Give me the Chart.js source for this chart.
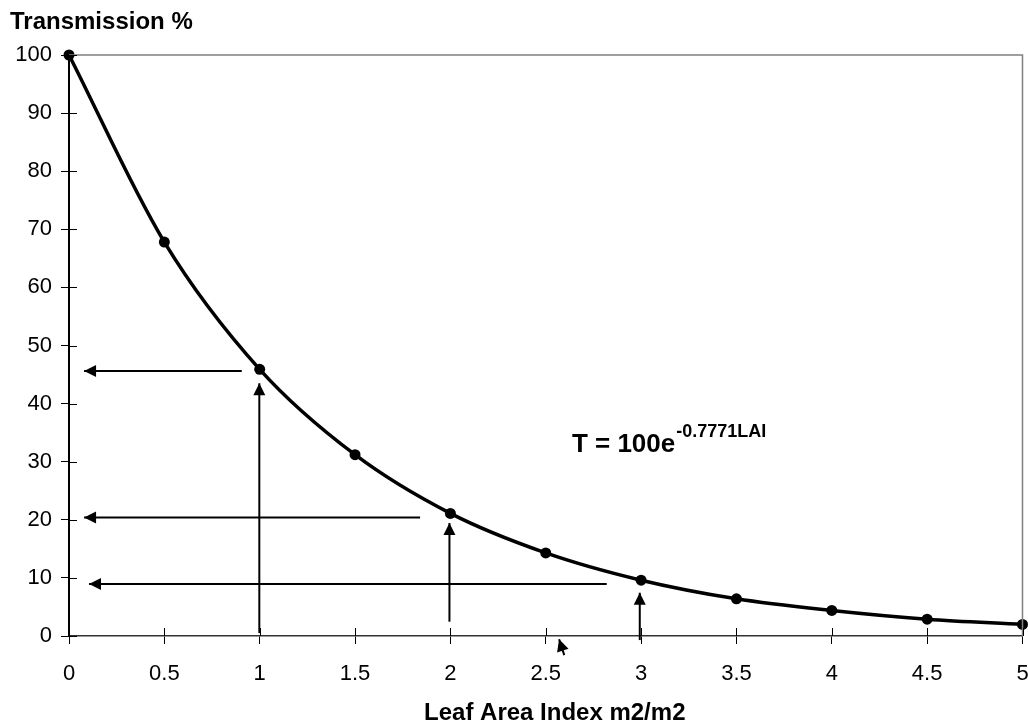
<!DOCTYPE html>
<html>
<head>
<meta charset="utf-8">
<script src="https://cdn.jsdelivr.net/npm/chart.js@4.4.1/dist/chart.umd.min.js"></script>
<style>
  html, body { margin: 0; padding: 0; background: #fff; }
  #wrap { width: 1028px; height: 724px; position: relative; }
</style>
</head>
<body>
<div id="wrap"><canvas id="chart"></canvas></div>
<script>
const lai = [0, 0.5, 1, 1.5, 2, 2.5, 3, 3.5, 4, 4.5, 5];
const transmission = [100, 67.8, 45.9, 31.2, 21.1, 14.3, 9.6, 6.4, 4.4, 2.9, 2.0];
const xTicks = [0, 0.5, 1, 1.5, 2, 2.5, 3, 3.5, 4, 4.5, 5];
const yTicks = [0, 10, 20, 30, 40, 50, 60, 70, 80, 90, 100];

// arrows as [tailX, tailY, tipX, tipY] in data units
const readOffArrows = [
  [0.906, 45.6, 0.079, 45.6],
  [1.841, 20.4, 0.079, 20.4],
  [2.82, 8.95, 0.105, 8.95],
];
const readUpArrows = [
  [0.998, 0.5, 0.998, 43.5],
  [1.995, 2.46, 1.995, 19.45],
  [2.993, -0.7, 2.993, 7.45],
];
const strayArrow = [2.597, -3.3, 2.57, -0.55];

const yTitle = 'Transmission %';
const xTitle = 'Leaf Area Index m2/m2';
const equationBase = 'T = 100e';
const equationExp = '-0.7771LAI';
const equationAt = [2.637, 31.7];

const FONT = '"Liberation Sans", Arial, Helvetica, sans-serif';

function arrowDataset(a) {
  return {
    type: 'line',
    data: [{ x: a[0], y: a[1] }, { x: a[2], y: a[3] }],
    borderColor: '#000',
    borderWidth: 2,
    pointRadius: 0,
    tension: 0,
    clip: false,
    arrow: true,
  };
}

const decorations = {
  id: 'decorations',
  afterDatasetsDraw(chart) {
    const ctx = chart.ctx;
    chart.data.datasets.forEach((ds, i) => {
      if (!ds.arrow) return;
      const pts = chart.getDatasetMeta(i).data;
      const p0 = pts[0], p1 = pts[1];
      const ang = Math.atan2(p1.y - p0.y, p1.x - p0.x);
      const len = 12, half = 6;
      ctx.save();
      ctx.fillStyle = '#000';
      ctx.translate(p1.x, p1.y);
      ctx.rotate(ang);
      ctx.beginPath();
      ctx.moveTo(0, 0);
      ctx.lineTo(-len, -half);
      ctx.lineTo(-len, half);
      ctx.closePath();
      ctx.fill();
      ctx.restore();
    });
  },
  afterDraw(chart) {
    const ctx = chart.ctx;
    const { left, right, top, bottom } = chart.chartArea;
    const xs = chart.scales.x, ys = chart.scales.y;
    ctx.save();

    // plot area border (top and right)
    ctx.strokeStyle = '#808080';
    ctx.lineWidth = 1.5;
    ctx.beginPath();
    ctx.moveTo(left, top);
    ctx.lineTo(right, top);
    ctx.lineTo(right, bottom);
    ctx.stroke();

    // inner halves of the tick marks
    ctx.strokeStyle = '#000';
    ctx.lineWidth = 1;
    ctx.beginPath();
    ys.ticks.forEach(t => {
      const py = Math.round(ys.getPixelForValue(t.value)) + 0.5;
      ctx.moveTo(left, py);
      ctx.lineTo(left + 8, py);
    });
    xs.ticks.forEach(t => {
      const px = Math.round(xs.getPixelForValue(t.value)) + 0.5;
      ctx.moveTo(px, bottom);
      ctx.lineTo(px, bottom - 8);
    });
    ctx.stroke();

    ctx.fillStyle = '#000';
    ctx.textBaseline = 'alphabetic';

    // y title, horizontal above the axis
    ctx.textAlign = 'left';
    ctx.font = 'bold 24px ' + FONT;
    ctx.fillText(yTitle, 10, 29);

    // x title, slightly right of the plot centre as in the original
    ctx.textAlign = 'center';
    ctx.fillText(xTitle, (left + right) / 2 + 9, 720);

    // fitted equation
    ctx.textAlign = 'left';
    const ex = xs.getPixelForValue(equationAt[0]);
    const ey = ys.getPixelForValue(equationAt[1]);
    ctx.font = 'bold 26px ' + FONT;
    ctx.fillText(equationBase, ex, ey);
    const w = ctx.measureText(equationBase).width;
    ctx.font = 'bold 18px ' + FONT;
    ctx.fillText(equationExp, ex + w + 1, ey - 15);

    ctx.restore();
  }
};

new Chart(document.getElementById('chart'), {
  type: 'line',
  data: {
    datasets: [
      {
        data: lai.map((x, i) => ({ x: x, y: transmission[i] })),
        borderColor: '#000',
        borderWidth: 3.5,
        pointRadius: 5.5,
        pointBackgroundColor: '#000',
        pointBorderColor: '#000',
        pointBorderWidth: 0,
        cubicInterpolationMode: 'monotone',
        clip: false,
      },
      ...readOffArrows.map(arrowDataset),
      ...readUpArrows.map(arrowDataset),
      arrowDataset(strayArrow),
    ],
  },
  options: {
    responsive: true,
    maintainAspectRatio: false,
    animation: false,
    layout: { padding: { top: 55, right: 4, bottom: 0, left: 0 } },
    plugins: {
      legend: { display: false },
      tooltip: { enabled: false },
    },
    scales: {
      x: {
        type: 'linear',
        min: 0,
        max: 5,
        afterBuildTicks: (s) => { s.ticks = xTicks.map(v => ({ value: v })); },
        afterFit: (s) => { s.height = 88; s.paddingLeft = 0; s.paddingRight = 0; },
        ticks: {
          color: '#000',
          font: { family: FONT, size: 22 },
          padding: 17,
          maxRotation: 0,
          autoSkip: false,
          callback: (v) => String(v),
        },
        grid: { drawOnChartArea: false, tickLength: 8, tickColor: '#000', tickWidth: 1 },
        border: { color: '#333', width: 1.5 },
      },
      y: {
        type: 'linear',
        min: 0,
        max: 100,
        afterBuildTicks: (s) => { s.ticks = yTicks.map(v => ({ value: v })); },
        afterFit: (s) => { s.width = 69; s.paddingTop = 0; s.paddingBottom = 0; },
        ticks: {
          color: '#000',
          font: { family: FONT, size: 22 },
          padding: 9,
          callback: (v) => String(v),
        },
        grid: { drawOnChartArea: false, tickLength: 8, tickColor: '#000', tickWidth: 1 },
        border: { color: '#000', width: 2 },
      },
    },
  },
  plugins: [decorations],
});
</script>
</body>
</html>
